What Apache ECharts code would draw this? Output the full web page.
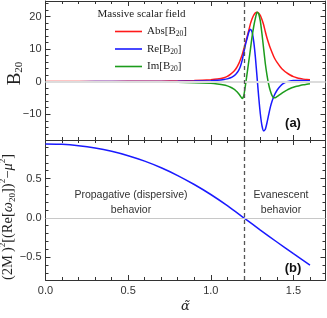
<!DOCTYPE html>
<html><head><meta charset="utf-8">
<script src="https://cdn.jsdelivr.net/npm/echarts@6/dist/echarts.min.js"></script>
<style>html,body{margin:0;padding:0;background:#fff}#c{width:327px;height:318px}</style>
</head><body><div id="c"></div>
<script>
// ---- data ----
const alphaTop = [0, 0.2, 0.4, 0.6, 0.7, 0.8, 0.9, 1.0, 1.04, 1.08, 1.1, 1.12, 1.14,
  1.15, 1.16, 1.17, 1.18, 1.19, 1.2, 1.21, 1.22, 1.23, 1.24, 1.25, 1.26, 1.27, 1.28, 1.29,
  1.3, 1.31, 1.32, 1.33, 1.34, 1.35, 1.36, 1.37, 1.38, 1.39, 1.4,
  1.42, 1.44, 1.46, 1.48, 1.5, 1.52, 1.54, 1.56, 1.58, 1.6];
const absB20 = [0.05, 0.06, 0.08, 0.12, 0.16, 0.22, 0.35, 0.6, 0.8, 1.2, 1.6, 2.3, 3.2,
  3.8, 4.6, 5.6, 6.9, 8.3, 10.0, 11.9, 13.8, 15.8, 17.8, 19.3, 20.4, 21.1, 21.3, 21.0,
  20.3, 19.0, 17.4, 15.3, 13.4, 11.8, 10.3, 9.0, 7.8, 6.8, 6.0,
  4.6, 3.5, 2.7, 2.05, 1.55, 1.2, 0.95, 0.78, 0.64, 0.55];
const reB20 = [0.0, 0.01, 0.02, 0.04, 0.06, 0.1, 0.17, 0.3, 0.42, 0.65, 0.85, 1.2, 1.8,
  2.2, 2.8, 3.6, 4.8, 6.6, 9.0, 11.4, 13.3, 15.2, 16.1, 15.2, 12.2, 7.4, 1.3, -4.8,
  -10.0, -13.6, -15.1, -14.6, -12.6, -10.2, -7.9, -6.1, -4.7, -3.6, -2.7,
  -1.4, -0.55, -0.05, 0.2, 0.32, 0.36, 0.36, 0.33, 0.29, 0.25];
const imB20 = [-0.03, -0.04, -0.06, -0.1, -0.14, -0.21, -0.33, -0.52, -0.7, -1.0, -1.3, -1.7, -2.3,
  -2.7, -3.2, -3.8, -4.5, -5.2, -4.2, -1.0, 2.6, 6.3, 10.0, 13.9, 17.0, 19.5, 21.3, 20.8,
  18.5, 14.5, 10.0, 5.5, 2.0, -0.8, -2.8, -4.2, -4.9, -4.9, -4.6,
  -3.9, -3.2, -2.6, -2.1, -1.7, -1.4, -1.15, -0.95, -0.8, -0.65];
const alphaBottom = [0, 0.1, 0.2, 0.3, 0.4, 0.5, 0.6, 0.7, 0.8, 0.9, 1.0, 1.1, 1.2, 1.3, 1.4, 1.5, 1.6];
const dispersion = [0.94, 0.935, 0.917, 0.888, 0.846, 0.79, 0.721, 0.637, 0.538, 0.424, 0.297, 0.155, 0.0, -0.155, -0.307, -0.456, -0.60];
const criticalAlpha = 1.2;
const xTicks = [0, 0.5, 1.0, 1.5];
const topYTicks = [-10, 0, 10, 20];
const topYMinor = [-16, -14, -12, -8, -6, -4, -2, 2, 4, 6, 8, 12, 14, 16, 18, 22, 24];
const botYTicks = [-0.5, 0, 0.5];
const botYMinor = [-0.7, -0.6, -0.4, -0.3, -0.2, -0.1, 0.1, 0.2, 0.3, 0.4, 0.6, 0.7, 0.8, 0.9];

const zip = (xs, ys) => xs.map((x, i) => [x, ys[i]]);
const FRAME = '#333';
const SANS = 'Liberation Sans';
const SERIF = 'Liberation Serif';

function xAx(grid, pos, labels) {
  return {
    type: 'value', gridIndex: grid, position: pos, min: 0, max: 1.694, interval: 0.5,
    axisLine: {show: true, onZero: false, lineStyle: {color: FRAME, width: 1}},
    axisTick: {show: true, inside: true, length: 5, lineStyle: {color: FRAME}},
    minorTick: {show: true, splitNumber: 5, length: 3, lineStyle: {color: FRAME}},
    splitLine: {show: false}, minorSplitLine: {show: false},
    axisLabel: {show: labels, customValues: xTicks, color: '#333', fontFamily: SANS, fontSize: 11, margin: 5,
      formatter: v => v.toFixed(1)}
  };
}
function yAx(grid, pos, min, max, ticks, len, labels, lineShow, fmt) {
  return {
    type: 'value', gridIndex: grid, position: pos, min: min, max: max,
    axisLine: {show: lineShow, onZero: false, lineStyle: {color: FRAME, width: 1}},
    axisTick: {show: true, inside: true, length: len, customValues: ticks, lineStyle: {color: FRAME}},
    splitLine: {show: false},
    axisLabel: {show: labels, customValues: ticks, color: '#333', fontFamily: SANS, fontSize: 11, margin: 4,
      formatter: fmt}
  };
}
const minusFmt = d => v => (v < 0 ? '\u2212' : '') + Math.abs(v).toFixed(d);

const topY = yAx(0, 'left', -17.9, 24.75, topYTicks, 5, true, true, minusFmt(0));
topY.name = '{b|B}{s|20}';
topY.nameLocation = 'middle';
topY.nameGap = 21;
topY.nameMoveOverlap = false;
topY.nameTextStyle = {padding: [0, 6, 0, 0], rich: {
  b: {fontFamily: SERIF, fontSize: 19, color: '#222', lineHeight: 22, verticalAlign: 'bottom'},
  s: {fontFamily: SERIF, fontSize: 11, color: '#222', lineHeight: 22, verticalAlign: 'bottom'}
}};
const botY = yAx(1, 'left', -0.79, 0.99, botYTicks, 5, true, true, minusFmt(1));
botY.name = '{n|(2M\u2009)}{p|2}{n|[(Re[}{i|\u03c9}{s|20}{n|])}{p|2}{n|\u2212}{i|\u03bc}{p|2}{n|]}';
botY.nameLocation = 'middle';
botY.nameGap = 28;
botY.nameMoveOverlap = false;
botY.nameTextStyle = {padding: [0, 14, 0, 0], rich: {
  n: {fontFamily: SERIF, fontSize: 14.5, color: '#222', lineHeight: 19, verticalAlign: 'middle'},
  i: {fontFamily: SERIF, fontSize: 14.5, fontStyle: 'italic', color: '#222', lineHeight: 19, verticalAlign: 'middle'},
  p: {fontFamily: SERIF, fontSize: 9, color: '#222', lineHeight: 9, verticalAlign: 'top'},
  s: {fontFamily: SERIF, fontSize: 9, color: '#222', lineHeight: 9, verticalAlign: 'bottom'}
}};

const xBot = xAx(1, 'bottom', true);
xBot.name = '\u03b1\u0303';
xBot.nameLocation = 'middle';
xBot.nameGap = 20;
xBot.nameMoveOverlap = false;
xBot.nameTextStyle = {fontFamily: 'DejaVu Serif', fontStyle: 'italic', fontSize: 13, color: '#222'};

const refLines = (grid, zeroColor, zeroWidth) => ({
  type: 'line', xAxisIndex: grid === 0 ? 0 : 2, yAxisIndex: grid === 0 ? 0 : 4, data: [], z: 1,
  silent: true,
  markLine: {silent: true, symbol: 'none', label: {show: false}, animation: false,
    data: [
      {yAxis: 0, lineStyle: {color: zeroColor, width: zeroWidth, type: 'solid'}},
      {xAxis: criticalAlpha, lineStyle: {color: '#555', width: 1.3, type: [4, 3]}}
    ]}
});
const curve = (name, xs, ys, color, xi, yi) => ({
  name: name, type: 'line', xAxisIndex: xi, yAxisIndex: yi, data: zip(xs, ys),
  showSymbol: false, symbol: 'none', smooth: 0.2, z: 3,
  lineStyle: {color: color, width: 1.5}, itemStyle: {color: color}
});

const chart = echarts.init(document.getElementById('c'), null, {renderer: 'canvas'});
chart.setOption({
  animation: false,
  backgroundColor: '#fff',
  grid: [
    {left: 45.5, right: 1.5, top: 1, height: 139, outerBoundsMode: 'none', containLabel: false},
    {left: 45.5, right: 1.5, top: 140, height: 140, outerBoundsMode: 'none', containLabel: false}
  ],
  xAxis: [xAx(0, 'bottom', false), xAx(0, 'top', false), xBot, xAx(1, 'top', false)],
  yAxis: [
    topY,
    yAx(0, 'left', -17.9, 24.75, topYMinor, 3, false, false),
    yAx(0, 'right', -17.9, 24.75, topYTicks, 5, false, true),
    yAx(0, 'right', -17.9, 24.75, topYMinor, 3, false, false),
    botY,
    yAx(1, 'left', -0.79, 0.99, botYMinor, 3, false, false),
    yAx(1, 'right', -0.79, 0.99, botYTicks, 5, false, true),
    yAx(1, 'right', -0.79, 0.99, botYMinor, 3, false, false)
  ],
  legend: {
    data: ['Abs', 'Re', 'Im'], orient: 'vertical', left: 110, top: 21,
    icon: 'rect', itemWidth: 27, itemHeight: 1.6, itemGap: 5,
    formatter: n => '{t|' + n + '[B}{s|20}{t|]}',
    textStyle: {rich: {
      t: {fontFamily: SERIF, fontSize: 11, color: '#222', lineHeight: 14, verticalAlign: 'middle'},
      s: {fontFamily: SERIF, fontSize: 7.5, color: '#222', lineHeight: 14, verticalAlign: 'bottom'}
    }}
  },
  graphic: [
    {type: 'text', style: {text: 'Massive scalar field', x: 141.5, y: 14.5, align: 'center', verticalAlign: 'middle', font: '11px "Liberation Serif"', fill: '#222'}},
    {type: 'text', style: {text: 'Propagative (dispersive)', x: 131, y: 195, align: 'center', verticalAlign: 'middle', font: '10.5px "Liberation Sans"', fill: '#333'}},
    {type: 'text', style: {text: 'behavior', x: 131, y: 210.5, align: 'center', verticalAlign: 'middle', font: '10.5px "Liberation Sans"', fill: '#333'}},
    {type: 'text', style: {text: 'Evanescent', x: 281, y: 195, align: 'center', verticalAlign: 'middle', font: '10.5px "Liberation Sans"', fill: '#333'}},
    {type: 'text', style: {text: 'behavior', x: 281, y: 210.5, align: 'center', verticalAlign: 'middle', font: '10.5px "Liberation Sans"', fill: '#333'}},
    {type: 'text', style: {text: '(a)', x: 293, y: 123, align: 'center', verticalAlign: 'middle', font: 'bold 13px "Liberation Sans"', fill: '#111'}},
    {type: 'text', style: {text: '(b)', x: 293, y: 268, align: 'center', verticalAlign: 'middle', font: 'bold 13px "Liberation Sans"', fill: '#111'}}
  ],
  series: [
    refLines(0, '#dcdcdc', 2),
    refLines(1, '#c8c8c8', 1),
    curve('Abs', alphaTop, absB20, '#ff1a1a', 0, 0),
    curve('Re', alphaTop, reB20, '#1a1aff', 0, 0),
    curve('Im', alphaTop, imB20, '#1c9c1c', 0, 0),
    curve('disp', alphaBottom, dispersion, '#1a1aff', 2, 4)
  ]
});
</script></body></html>
